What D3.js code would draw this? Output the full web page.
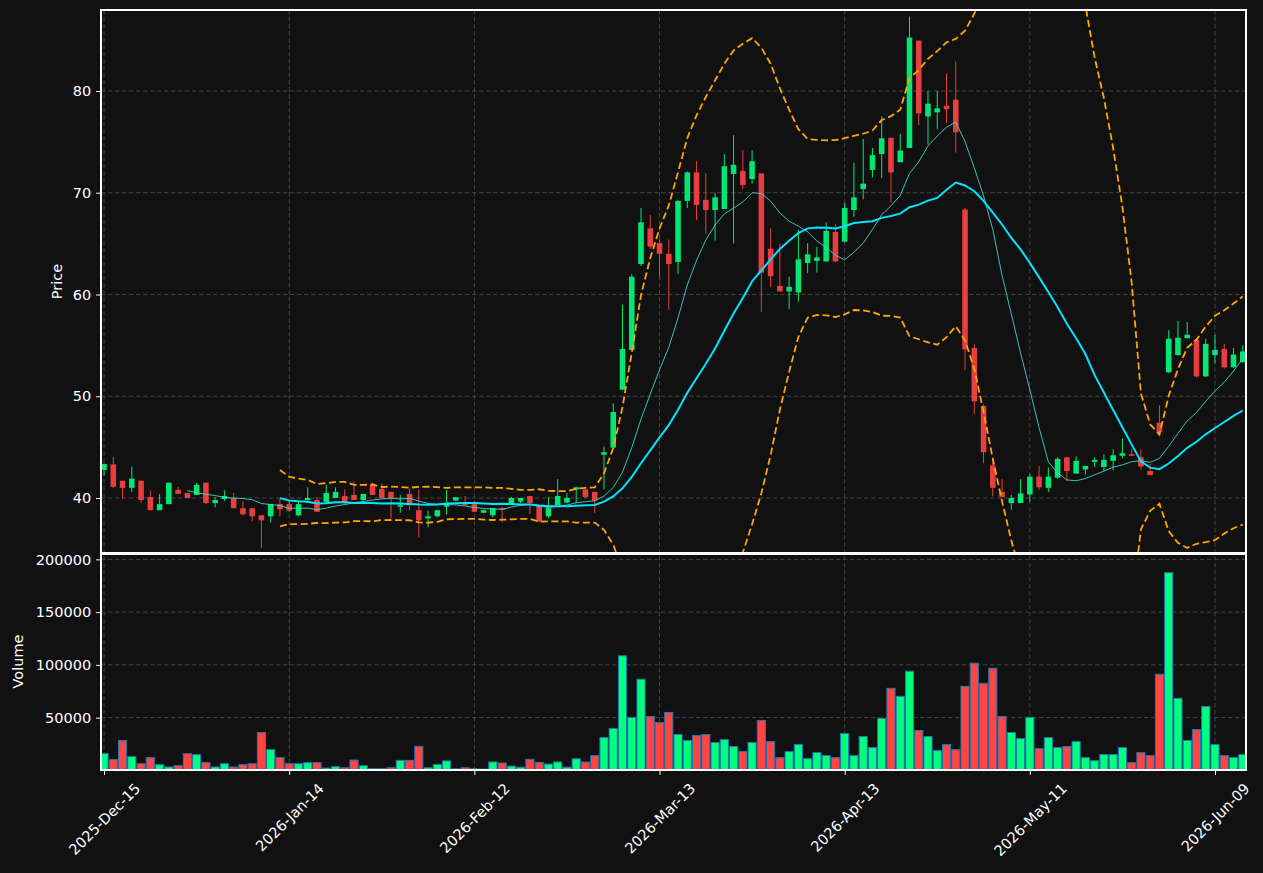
<!DOCTYPE html>
<html>
<head>
<meta charset="utf-8">
<script src="https://cdn.jsdelivr.net/npm/d3@7"></script>
<style>
  body { margin: 0; background: #111111; }
  svg { display: block; font-family: 'DejaVu Sans', sans-serif; }
</style>
</head>
<body>
<div id="chart"></div>
<script>
// Daily OHLCV, one entry per trading day starting 2025-12-15
const opens = [
  42.75, 43.3, 41.7, 41.0, 41.7, 40.1, 38.8, 39.4, 40.8, 40.5,
  40.3, 41.5, 39.5, 39.9, 40.0, 39.0, 39.0, 38.3, 38.2, 39.4,
  39.4, 38.3, 39.8, 39.8, 39.6, 40.0, 40.2, 40.3, 39.8, 41.3,
  40.9, 40.6, 39.15, 40.4, 38.8, 38.0, 38.2, 39.15, 39.75, 39.5,
  39.4, 38.55, 38.3, 39.0, 39.5, 39.65, 40.2, 39.2, 38.2, 39.3,
  39.55, 40.85, 40.85, 40.6, 44.25, 44.95, 50.65, 54.55, 63.0, 66.5,
  65.05, 64.0, 63.2, 69.2, 72.0, 69.3, 68.3, 68.4, 71.85, 72.15,
  71.35, 71.9, 64.5, 60.85, 60.3, 60.2, 63.1, 63.3, 63.25, 66.15,
  65.2, 68.3, 70.35, 72.25, 73.8, 75.4, 73.0, 74.4, 84.95, 77.5,
  77.9, 78.55, 79.15, 68.35, 54.75, 49.05, 43.2, 40.6, 39.5, 39.5,
  40.35, 42.1, 41.0, 42.0, 44.0, 42.4, 42.8, 43.55, 43.05, 43.65,
  44.15, 44.3, 44.0, 42.65, 47.4, 52.35, 54.05, 55.7, 55.55, 51.95,
  54.05, 54.65, 52.85, 53.35
];
const highs = [
  43.4, 44.0, 41.7, 43.1, 41.7, 40.75, 40.4, 41.5, 41.1, 40.5,
  41.5, 41.5, 40.1, 40.75, 40.5, 39.7, 39.0, 38.3, 39.4, 39.9,
  39.7, 39.6, 41.05, 40.1, 41.3, 41.05, 40.85, 41.6, 40.4, 41.5,
  41.4, 40.6, 40.3, 40.95, 40.8, 38.75, 38.85, 40.8, 40.1, 40.2,
  39.4, 38.85, 39.0, 39.1, 40.1, 40.0, 40.2, 39.2, 40.1, 41.85,
  40.5, 41.1, 40.9, 40.6, 45.05, 49.3, 59.0, 62.0, 68.5, 67.8,
  65.5, 65.4, 69.3, 72.1, 73.1, 71.9, 70.0, 73.8, 75.65, 74.2,
  74.2, 71.9, 66.5, 65.0, 61.75, 66.35, 65.05, 64.7, 67.1, 66.9,
  69.0, 72.95, 75.3, 74.4, 77.5, 75.4, 75.8, 87.3, 84.95, 80.0,
  80.0, 81.75, 82.9, 68.5, 55.1, 49.2, 43.8, 41.85, 40.3, 41.85,
  42.35, 43.15, 43.0, 44.0, 44.05, 44.1, 43.15, 44.0, 44.3, 44.8,
  45.85, 44.8, 44.8, 43.35, 49.1, 56.5, 57.4, 57.3, 55.7, 55.65,
  56.05, 55.15, 54.75, 55.0
];
const lows = [
  42.2, 41.0, 39.9, 40.6, 39.5, 38.8, 38.8, 39.4, 40.4, 40.0,
  40.3, 39.4, 39.1, 39.7, 39.0, 38.3, 37.7, 35.05, 37.6, 38.2,
  38.6, 38.2, 39.8, 38.6, 39.5, 40.0, 39.4, 39.8, 39.7, 40.3,
  40.0, 38.0, 38.55, 38.8, 36.1, 37.1, 38.1, 38.4, 39.7, 39.3,
  38.6, 38.5, 38.1, 37.6, 39.4, 39.5, 38.4, 37.6, 38.0, 39.3,
  39.5, 39.5, 40.0, 38.55, 40.85, 44.9, 50.6, 54.5, 62.8, 64.5,
  61.75, 58.5, 62.0, 68.5, 67.3, 65.95, 65.3, 68.4, 65.0, 70.35,
  70.9, 58.3, 60.7, 60.3, 58.55, 59.3, 62.1, 62.15, 63.2, 63.2,
  65.1, 67.65, 69.35, 71.5, 71.45, 69.05, 73.0, 74.4, 76.65, 74.75,
  76.25, 76.85, 73.95, 52.55, 48.25, 43.4, 40.15, 40.05, 38.85, 39.5,
  39.65, 40.8, 40.6, 41.9, 41.65, 42.4, 42.3, 43.05, 42.65, 42.7,
  43.9, 44.15, 42.8, 42.25, 46.1, 52.3, 54.0, 55.7, 51.85, 51.9,
  53.25, 52.7, 52.8, 53.3
];
const closes = [
  43.34, 41.1, 41.0, 41.9, 39.8, 38.8, 39.4, 41.5, 40.4, 40.0,
  41.3, 39.5, 39.8, 40.2, 39.0, 38.4, 38.2, 37.8, 39.4, 38.9,
  38.75, 39.4, 40.0, 38.65, 40.5, 40.6, 39.5, 39.8, 40.4, 40.3,
  40.0, 40.0, 39.3, 39.3, 37.8, 38.2, 38.8, 39.4, 40.07, 39.3,
  38.65, 38.8, 39.0, 38.85, 40.0, 40.0, 39.5, 37.7, 39.0, 40.2,
  40.0, 41.05, 40.1, 39.75, 44.5, 48.45, 54.65, 61.75, 67.1, 64.7,
  64.0, 63.0, 69.2, 72.0, 68.8, 68.3, 69.55, 72.6, 72.75, 70.75,
  73.1, 62.15, 61.8, 60.3, 60.75, 63.45, 63.95, 63.65, 66.25, 63.25,
  68.5, 69.55, 70.9, 73.7, 75.35, 72.0, 74.15, 85.25, 77.8, 78.75,
  78.3, 78.2, 75.95, 54.6, 49.5, 44.5, 41.0, 40.1, 40.0, 40.45,
  42.1, 41.05, 42.1, 43.85, 42.65, 43.65, 43.15, 43.75, 43.75, 44.2,
  44.4, 44.15, 43.1, 42.25, 46.5, 55.65, 55.75, 56.05, 51.95, 55.15,
  54.55, 52.85, 54.1, 54.4
];
const volumes = [
  15900, 10200, 28300, 13000, 6300, 12100, 5400, 3200, 4400, 15900,
  14900, 7300, 3200, 6300, 3200, 5400, 6300, 35900, 19700, 12100,
  6300, 6300, 7300, 7300, 2200, 3500, 2500, 9800, 4400, 1600,
  1600, 2500, 9500, 9500, 22800, 2500, 5500, 9000, 1500, 2500,
  1500, 1200, 8000, 7000, 4000, 3000, 10500, 7500, 6000, 8000,
  3000, 11000, 7900, 14000, 31100, 39700, 108600, 50200, 86400, 51100,
  45400, 54900, 34000, 28300, 33000, 34000, 26400, 29200, 22600, 17800,
  26400, 47300, 27300, 12100, 17800, 24500, 11100, 16800, 14000, 12100,
  34900, 14000, 32100, 21600, 49200, 77800, 70200, 94000, 37800, 32100,
  18700, 24400, 19700, 79700, 101600, 82500, 96800, 51100, 35900, 30100,
  50200, 20600, 31100, 21600, 22600, 27300, 12100, 9200, 15000, 15000,
  21600, 7300, 16800, 14000, 91100, 187300, 68300, 28300, 38700, 60600,
  24400, 14000, 12100, 15000
];

// trading calendar
const startDate = '2025-12-15';
const holidays = ['2025-12-25', '2026-01-01', '2026-01-19', '2026-02-16', '2026-04-03', '2026-05-25'];
const tickEvery = 20;
const priceTicks = [40, 50, 60, 70, 80];
const volumeTicks = [50000, 100000, 150000, 200000];
const maShort = 10;
const maLong = 20;

const parse = d3.utcParse('%Y-%m-%d');
const iso = d3.utcFormat('%Y-%m-%d');
const fmtTick = d3.utcFormat('%Y-%b-%d');

const dates = [];
for (let d = parse(startDate); dates.length < closes.length; d = d3.utcDay.offset(d, 1)) {
  const wd = d.getUTCDay();
  if (wd === 0 || wd === 6 || holidays.includes(iso(d))) continue;
  dates.push(d);
}

// rolling stats
function sma(arr, n) {
  return arr.map((v, i) => i < n - 1 ? null : d3.mean(arr.slice(i - n + 1, i + 1)));
}
function rollStd(arr, n) {
  return arr.map((v, i) => i < n - 1 ? null : d3.deviation(arr.slice(i - n + 1, i + 1)));
}
const ma10 = sma(closes, maShort);
const ma20 = sma(closes, maLong);
const sd20 = rollStd(closes, maLong);
const upper = ma20.map((m, i) => m === null ? null : m + 2 * sd20[i]);
const lower = ma20.map((m, i) => m === null ? null : m - 2 * sd20[i]);

// layout
const W = 1263, H = 873;
const left = 101, right = 1246;
const pTop = 10, pBot = 553, vTop = 553, vBot = 770;
const fontSize = 14.5;
const tickLen = 4.9, tickPad = 4.9;
const gridColor = '#4a4a4a';
const textColor = '#ffffff';
const upColor = '#00ff7f', downColor = '#ff4444';

const n = closes.length;
const x = d3.scaleLinear().domain([-0.33, n - 0.65]).range([left, right]);
const step = x(1) - x(0);
const yP = d3.scaleLinear().domain([34.595, 87.96]).range([pBot, pTop]);
const yV = d3.scaleLinear()
  .domain([0.3 * d3.min(volumes), 1.1 * d3.max(volumes)])
  .range([vBot, vTop]);

const svg = d3.select('#chart').append('svg')
  .attr('width', W).attr('height', H);
svg.append('rect').attr('width', W).attr('height', H).attr('fill', '#111111');

const defs = svg.append('defs');
defs.append('clipPath').attr('id', 'clipP')
  .append('rect').attr('x', left).attr('y', pTop).attr('width', right - left).attr('height', pBot - pTop);
defs.append('clipPath').attr('id', 'clipV')
  .append('rect').attr('x', left).attr('y', vTop).attr('width', right - left).attr('height', vBot - vTop);

const tickIdx = d3.range(0, n, tickEvery);

// grid
const grid = svg.append('g')
  .attr('stroke', gridColor).attr('stroke-width', 0.9).attr('stroke-dasharray', '4.5,2.5');
tickIdx.forEach(i => {
  grid.append('line').attr('x1', x(i)).attr('x2', x(i)).attr('y1', pTop).attr('y2', vBot);
});
priceTicks.forEach(v => {
  grid.append('line').attr('x1', left).attr('x2', right).attr('y1', yP(v)).attr('y2', yP(v));
});
volumeTicks.forEach(v => {
  grid.append('line').attr('x1', left).attr('x2', right).attr('y1', yV(v)).attr('y2', yV(v));
});

const isUp = i => closes[i] >= opens[i];

// candles
const candles = svg.append('g').attr('clip-path', 'url(#clipP)');
const bodyW = step * 0.6;
const cg = candles.selectAll('g.candle').data(d3.range(n)).enter()
  .append('g').attr('class', 'candle')
  .attr('opacity', 0.9);
cg.append('line')
  .attr('x1', i => x(i)).attr('x2', i => x(i))
  .attr('y1', i => yP(highs[i])).attr('y2', i => yP(lows[i]))
  .attr('stroke', i => isUp(i) ? upColor : downColor)
  .attr('stroke-width', 1);
cg.append('rect')
  .attr('x', i => x(i) - bodyW / 2)
  .attr('width', bodyW)
  .attr('y', i => yP(Math.max(opens[i], closes[i])))
  .attr('height', i => Math.max(1, Math.abs(yP(opens[i]) - yP(closes[i]))))
  .attr('fill', i => isUp(i) ? upColor : downColor);

// indicator lines
const idx = d3.range(n);
const mkLine = arr => d3.line().defined(i => arr[i] !== null).x(i => x(i)).y(i => yP(arr[i]))(idx);
const lines = svg.append('g').attr('clip-path', 'url(#clipP)').attr('fill', 'none');
lines.append('path').attr('d', mkLine(upper))
  .attr('stroke', '#ffa500').attr('stroke-width', 1.8).attr('stroke-dasharray', '7,3.5');
lines.append('path').attr('d', mkLine(lower))
  .attr('stroke', '#ffa500').attr('stroke-width', 1.8).attr('stroke-dasharray', '7,3.5');
lines.append('path').attr('d', mkLine(ma10))
  .attr('stroke', '#40e0d0').attr('stroke-opacity', 0.85).attr('stroke-width', 1);
lines.append('path').attr('d', mkLine(ma20))
  .attr('stroke', '#00e5ff').attr('stroke-width', 2);

// volume
const volW = step * 0.88;
svg.append('g').attr('clip-path', 'url(#clipV)')
  .selectAll('rect').data(idx).enter().append('rect')
  .attr('x', i => x(i) - volW / 2)
  .attr('width', volW)
  .attr('y', i => yV(volumes[i]))
  .attr('height', i => Math.max(0, yV.range()[0] - yV(volumes[i])))
  .attr('fill', i => isUp(i) ? upColor : downColor)
  .attr('stroke', '#1f77b4').attr('stroke-width', 1);

// axes
function styleAxis(g) {
  g.select('.domain').remove();
  g.selectAll('.tick line').attr('stroke', '#ffffff').attr('stroke-width', 1);
  g.selectAll('.tick text').attr('fill', textColor).style('font-size', fontSize + 'px')
    .style('font-family', "'DejaVu Sans', sans-serif");
}
svg.append('g').attr('transform', `translate(${left},0)`)
  .call(d3.axisLeft(yP).tickValues(priceTicks).tickSize(tickLen).tickPadding(tickPad))
  .call(styleAxis);
svg.append('g').attr('transform', `translate(${left},0)`)
  .call(d3.axisLeft(yV).tickValues(volumeTicks).tickSize(tickLen).tickPadding(tickPad).tickFormat(d3.format('d')))
  .call(styleAxis);
const xAxis = svg.append('g').attr('transform', `translate(0,${vBot})`)
  .call(d3.axisBottom(x).tickValues(tickIdx).tickSize(tickLen).tickFormat(i => fmtTick(dates[i])))
  .call(styleAxis);
xAxis.selectAll('.tick text').each(function () {
  const t = d3.select(this);
  const L = this.getComputedTextLength();
  const half = (L + fontSize * 1.17) * Math.SQRT1_2 / 2;
  t.attr('x', 0).attr('y', 0).attr('dy', '0.35em')
    .attr('text-anchor', 'middle')
    .attr('transform', `translate(0,${tickLen + tickPad + half}) rotate(-45)`);
});

// spines
const spines = svg.append('g').attr('fill', 'none').attr('stroke', '#ffffff')
  .attr('stroke-width', 1.2).attr('shape-rendering', 'crispEdges');
spines.append('rect').attr('x', left).attr('y', pTop).attr('width', right - left).attr('height', pBot - pTop);
spines.append('rect').attr('x', left).attr('y', vTop + 1.5).attr('width', right - left).attr('height', vBot - vTop - 1.5);

// axis labels
svg.append('text')
  .attr('transform', `translate(57,${(pTop + pBot) / 2}) rotate(-90)`)
  .attr('text-anchor', 'middle').attr('dy', '0.35em')
  .attr('fill', textColor).style('font-size', fontSize + 'px')
  .text('Price');
svg.append('text')
  .attr('transform', `translate(17.5,${(vTop + vBot) / 2}) rotate(-90)`)
  .attr('text-anchor', 'middle').attr('dy', '0.35em')
  .attr('fill', textColor).style('font-size', fontSize + 'px')
  .text('Volume');
</script>
</body>
</html>
